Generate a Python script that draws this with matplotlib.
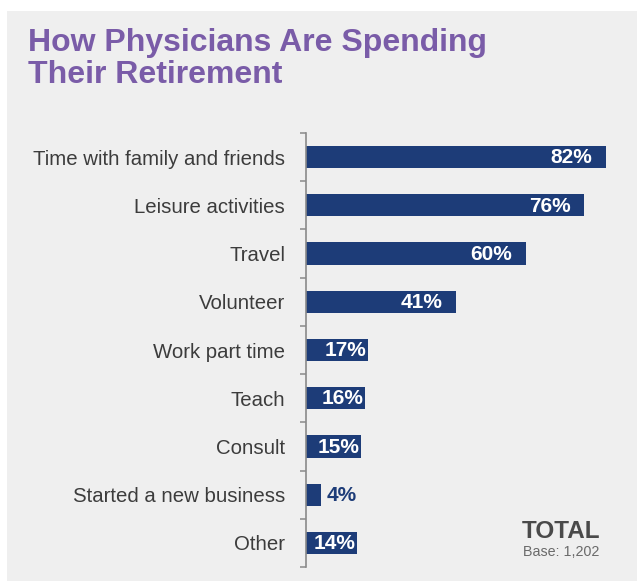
import matplotlib
matplotlib.use('Agg')

import matplotlib.pyplot as plt
from matplotlib.patches import Rectangle

# data
activities = ['Time with family and friends', 'Leisure activities', 'Travel',
              'Volunteer', 'Work part time', 'Teach', 'Consult',
              'Started a new business', 'Other']
shares = [82, 76, 60, 41, 17, 16, 15, 4, 14]

navy = '#1d3c78'
purple = '#7a5ca8'
grey_text = '#3c3c3c'

plt.rcParams['font.family'] = ['Liberation Sans', 'DejaVu Sans']

fig = plt.figure(figsize=(6.37, 5.81), dpi=100)
fig.patch.set_facecolor('white')
# light grey card behind everything
fig.patches.append(Rectangle((7 / 637, -0.01), 1, 1.01 - 11 / 581, transform=fig.transFigure,
                             facecolor='#efefef', edgecolor='none', zorder=-1))

ax = fig.add_axes([306 / 637, 14 / 581, 324 / 637, 434 / 581])
ax.set_facecolor('none')

pos = list(range(len(activities)))
ax.barh(pos, shares, height=0.46, color=navy, edgecolor='none')
ax.set_xlim(0, 88.5)
ax.set_ylim(len(activities) - 0.5, -0.5)

for y, v in zip(pos, shares):
    if v < 10:
        ax.annotate(f'{v}%', (v, y), xytext=(4, -0.5), textcoords='offset points',
                    ha='left', va='center', color=navy, fontsize=15, fontweight='bold')
    else:
        off = -10 if v >= 30 else -1
        ax.annotate(f'{v}%', (v, y), xytext=(off, -0.5), textcoords='offset points',
                    ha='right', va='center', color='white', fontsize=15, fontweight='bold')

ax.set_yticks(pos)
ax.set_yticklabels(activities, fontsize=14.7, color=grey_text)
ax.tick_params(axis='y', which='major', length=0, pad=15)
ax.set_yticks([p - 0.5 for p in pos] + [len(pos) - 0.5], minor=True)
ax.tick_params(axis='y', which='minor', length=4, width=1.1, color='#8a8a8a', direction='out')
ax.set_xticks([])
for side in ['top', 'right', 'bottom']:
    ax.spines[side].set_visible(False)
ax.spines['left'].set_color('#8a8a8a')
ax.spines['left'].set_linewidth(1.2)

fig.text(28 / 637, 1 - 59 / 581, 'How Physicians Are Spending\nTheir Retirement',
         color=purple, fontsize=23, fontweight='bold', ha='left', va='center',
         linespacing=1.1)

fig.text(561 / 637, 1 - 531 / 581, 'TOTAL', color='#4a4a4a', fontsize=17.5,
         fontweight='bold', ha='center', va='center')
fig.text(561 / 637, 1 - 552 / 581, 'Base: 1,202', color='#6a6a6a', fontsize=10.3,
         ha='center', va='center')

fig.savefig('out.png', dpi=100, facecolor=fig.get_facecolor())
